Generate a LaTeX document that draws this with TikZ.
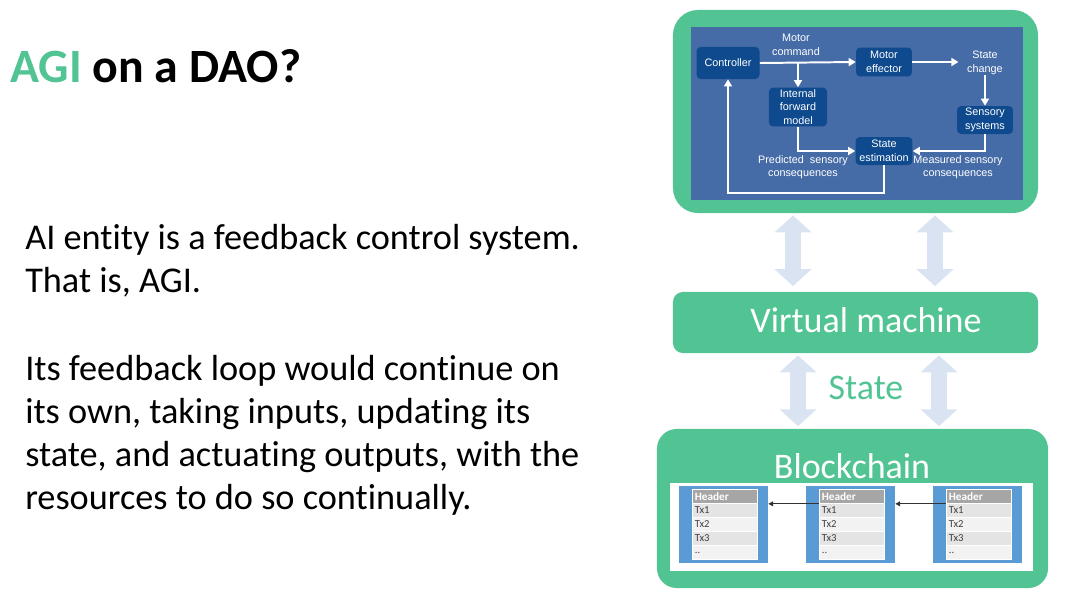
\documentclass[tikz,border=0pt]{standalone}
\usepackage{fontspec}
\setmainfont{Carlito}[Ligatures=NoCommon]
\newfontfamily\diagfont{Liberation Sans}
\usetikzlibrary{arrows.meta, positioning, calc}
\definecolor{agigreen}{HTML}{52C493}
\definecolor{panelblue}{HTML}{466CA7}
\definecolor{boxblue}{HTML}{0E4A8D}
\definecolor{pale}{HTML}{DAE3F2}
\definecolor{blockblue}{HTML}{5B9BD5}
\definecolor{hdrgray}{HTML}{A6A6A6}
\definecolor{rowdark}{HTML}{E4E4E4}
\definecolor{rowlight}{HTML}{F2F2F2}
\definecolor{txgray}{HTML}{404040}
\tikzset{
    titletext/.style={inner sep=0pt, font=\bfseries\fontsize{34}{40}\selectfont},
    bodytext/.style={inner sep=0pt, font=\fontsize{25.8}{31}\selectfont},
    bigtext/.style={inner sep=0pt, font=\fontsize{25.6}{30.7}\selectfont},
    greenbox/.style={fill=agigreen, draw=none, inner sep=0pt},
    ctlbox/.style={fill=boxblue, draw=none, rounded corners=3pt, inner sep=0pt,
        text=white, align=center, font=\diagfont\fontsize{7.7}{9.6}\selectfont},
    ctltext/.style={inner sep=0pt, text=white, align=center,
        font=\diagfont\fontsize{7.7}{9.6}\selectfont},
    flow/.style={draw=white, line width=1.4pt, -{Triangle[length=5pt,width=5.6pt]}},
    fatarrow/.style={draw=pale, line width=11.4pt,
        {Triangle[length=12pt,width=25.6pt]}-{Triangle[length=12pt,width=25.6pt]}},
    blkbox/.style={fill=blockblue, draw=none, minimum width=63.3pt, minimum height=54.8pt, inner sep=0pt},
    txrow/.style={draw=white, line width=0.4pt, minimum height=10pt, inner ysep=0pt, inner xsep=2pt,
        text width=42.2pt, align=left, text=txgray, font=\fontsize{7.6}{8}\selectfont},
    hdrow/.style={txrow, fill=hdrgray, text=white, font=\bfseries\fontsize{8}{8}\selectfont},
    chainlink/.style={draw=black!80, line width=0.9pt, -{Triangle[length=3.5pt,width=3.5pt]}}
}
\begin{document}
\begin{tikzpicture}[x=0.025cm, y=-0.025cm]
    \useasboundingbox (0,0) rectangle (1080,608);
    % left side: title and text
    \node[titletext, anchor=base west] (title) at (10,82) {\textcolor{agigreen}{AGI} on a DAO?};
    \foreach \y/\words [count=\i] in {249/{AI entity is a feedback control system.}, 292/{That is, AGI.},
        380/{Its feedback loop would continue on}, 423/{its own, taking inputs, updating its},
        466/{state, and actuating outputs, with the}, 509/{resources to do so continually.}}
        \node[bodytext, anchor=base west] (txt\i) at (25,\y) {\words};
    % feedback control panel
    \node[greenbox, rounded corners=17.8pt, minimum width=259.6pt, minimum height=144.4pt] (agibox) at (855.5,111.5) {};
    \fill[panelblue] (691,27) rectangle (1023,200);
    \node[ctlbox, minimum width=44.8pt, minimum height=22.8pt] (ctrl) at (728,63) {Controller};
    \node[ctltext] (cmd) at (796,45) {Motor\\command};
    \node[ctlbox, minimum width=39.8pt, minimum height=20.6pt] (eff) at (884,62) {Motor\\effector};
    \node[ctltext] (chg) at (985,63) {State\\change};
    \node[ctlbox, minimum width=41.3pt, minimum height=27.7pt] (ifm) at (798,107) {Internal\\forward\\model};
    \node[ctlbox, minimum width=39.8pt, minimum height=19.9pt] (sens) at (985,120) {Sensory\\systems};
    \node[ctlbox, minimum width=40.5pt, minimum height=19.9pt] (est) at (884,151) {State\\estimation};
    \node[ctltext] (pred) at (803,167) {Predicted\ \ sensory\\consequences};
    \node[ctltext] (meas) at (958,167) {Measured sensory\\consequences};
    \coordinate (loopy) at (0,193);
    \draw[flow] (ctrl.east) -- (eff.west);
    \draw[flow] (ctrl.east -| ifm.north) -- (ifm.north);
    \draw[flow, shorten >=6pt] (eff.east) -- (chg.west |- eff.east);
    \draw[flow] (chg.south) -- (sens.north);
    \draw[flow] (sens.south) |- (est.east);
    \draw[flow] (ifm.south) |- (est.west);
    \draw[flow] (est.south) -- (est.south |- loopy) -| (ctrl.south);
    % virtual machine
    \node[greenbox, rounded corners=7pt, minimum width=259.6pt, minimum height=43.4pt] (vmbox) at (855.5,322.5) {};
    \node[bigtext, text=white] (vmlabel) at (866,320) {Virtual machine};
    \foreach \x in {793,935}
        \draw[fatarrow, shorten <=1.5pt, shorten >=4pt] (agibox.south -| \x,0) -- (vmbox.north -| \x,0);
    \foreach \x in {798,939}
        \draw[fatarrow, shorten <=1.5pt, shorten >=2pt] (vmbox.south -| \x,0) -- (\x,429);
    \node[bigtext, text=agigreen] (state) at (866,388) {State};
    % blockchain
    \node[greenbox, rounded corners=14pt, minimum width=278.1pt, minimum height=113.1pt] (chainbox) at (852.5,508.5) {};
    \node[bigtext, text=white] (chainlabel) at (852,466) {Blockchain};
    \fill[white] (670,483) rectangle (1033,571);
    \foreach \i/\x in {1/679, 2/806, 3/933}{
        \node[blkbox] (blk\i) at (\x+44.5,524.5) {};
        \node[hdrow] (hd\i) at (\x+45.5,496.5) {Header};
        \node[txrow, fill=rowdark] (tx\i a) at (\x+45.5,510.5) {Tx1};
        \node[txrow, fill=rowlight] (tx\i b) at (\x+45.5,524.5) {Tx2};
        \node[txrow, fill=rowdark] (tx\i c) at (\x+45.5,538.5) {Tx3};
        \node[txrow, fill=rowlight] (tx\i d) at (\x+45.5,552.5) {..};
    }
    \draw[chainlink] (hd2.south west) -- (blk1.east |- hd2.south west);
    \draw[chainlink] (hd3.south west) -- (blk2.east |- hd3.south west);
\end{tikzpicture}
\end{document}
